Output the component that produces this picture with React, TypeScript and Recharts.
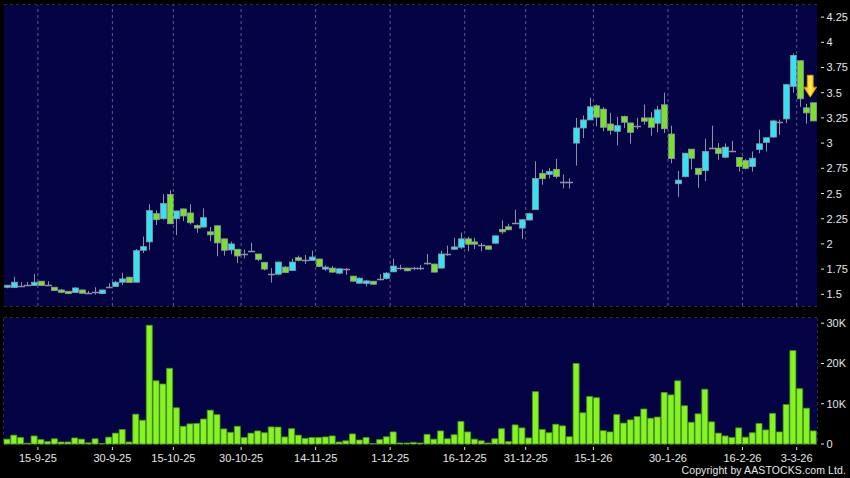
import { ComposedChart, Bar, XAxis, YAxis, CartesianGrid, ReferenceDot, ReferenceLine } from 'recharts';

const OPEN = [
  1.57, 1.567, 1.583, 1.597, 1.587, 1.63, 1.593, 1.57, 1.543, 1.53,
  1.517, 1.543, 1.517, 1.523, 1.507, 1.577, 1.577, 1.62, 1.67, 1.62,
  1.937, 2.02, 2.3, 2.25, 2.49, 2.25, 2.347, 2.307, 2.183, 2.167,
  2.12, 2.18, 2.05, 1.94, 1.947, 1.897, 1.933, 1.9, 1.817, 1.703,
  1.7, 1.77, 1.737, 1.863, 1.837, 1.837, 1.85, 1.75, 1.76, 1.71,
  1.75, 1.68, 1.61, 1.607, 1.63, 1.647, 1.657, 1.723, 1.76, 1.76,
  1.757, 1.76, 1.81, 1.8, 1.76, 1.897, 1.947, 1.967, 2.05, 2.02,
  1.987, 1.98, 2.007, 2.143, 2.17, 2.21, 2.157, 2.237, 2.34, 2.7,
  2.69, 2.74, 2.61, 2.61, 3.0, 3.15, 3.23, 3.37, 3.337, 3.19,
  3.117, 3.263, 3.2, 3.173, 3.25, 3.25, 3.197, 3.38, 3.09, 2.597,
  2.667, 2.94, 2.75, 2.727, 2.95, 2.95, 2.86, 2.917, 2.857, 2.827,
  2.767, 2.937, 3.007, 3.06, 3.21, 3.24, 3.563, 3.817, 3.35, 3.4,
];
const HIGH = [
  1.59, 1.673, 1.623, 1.623, 1.703, 1.63, 1.63, 1.57, 1.553, 1.533,
  1.57, 1.547, 1.533, 1.57, 1.547, 1.61, 1.633, 1.713, 1.673, 1.95,
  2.073, 2.393, 2.333, 2.493, 2.533, 2.33, 2.35, 2.393, 2.193, 2.353,
  2.167, 2.18, 2.05, 2.023, 1.947, 1.943, 2.01, 1.9, 1.82, 1.76,
  1.823, 1.78, 1.853, 1.883, 1.89, 1.933, 1.853, 1.787, 1.78, 1.757,
  1.76, 1.683, 1.667, 1.64, 1.633, 1.7, 1.72, 1.853, 1.793, 1.763,
  1.773, 1.79, 1.9, 1.803, 1.933, 1.983, 2.06, 2.113, 2.07, 2.06,
  2.01, 1.983, 2.08, 2.233, 2.2, 2.34, 2.24, 2.31, 2.82, 2.737,
  2.753, 2.843, 2.69, 2.65, 3.25, 3.273, 3.45, 3.383, 3.357, 3.3,
  3.26, 3.273, 3.2, 3.25, 3.383, 3.307, 3.367, 3.5, 3.173, 2.723,
  2.9, 2.94, 2.75, 3.043, 3.173, 3.0, 2.997, 3.023, 2.86, 2.843,
  2.917, 3.133, 3.053, 3.227, 3.233, 3.58, 3.89, 3.82, 3.39, 3.4,
];
const LOW = [
  1.56, 1.567, 1.577, 1.583, 1.587, 1.583, 1.583, 1.533, 1.51, 1.503,
  1.513, 1.507, 1.507, 1.497, 1.503, 1.57, 1.573, 1.593, 1.613, 1.617,
  1.91, 1.937, 2.187, 2.24, 2.2, 2.087, 2.227, 2.193, 2.11, 2.167,
  2.027, 1.877, 1.883, 1.897, 1.81, 1.857, 1.92, 1.83, 1.737, 1.617,
  1.69, 1.71, 1.733, 1.827, 1.8, 1.833, 1.77, 1.733, 1.713, 1.7,
  1.693, 1.623, 1.607, 1.577, 1.597, 1.64, 1.647, 1.723, 1.743, 1.73,
  1.743, 1.74, 1.793, 1.717, 1.757, 1.883, 1.943, 1.95, 1.927, 1.95,
  1.927, 1.943, 2.003, 2.1, 2.137, 2.197, 2.05, 2.233, 2.34, 2.587,
  2.65, 2.65, 2.55, 2.55, 2.777, 3.05, 3.23, 3.167, 3.117, 3.083,
  2.977, 3.15, 2.993, 3.14, 3.183, 3.073, 3.107, 3.1, 2.8, 2.467,
  2.66, 2.74, 2.557, 2.623, 2.943, 2.833, 2.85, 2.91, 2.717, 2.74,
  2.717, 2.9, 2.917, 3.053, 3.083, 3.2, 3.5, 3.36, 3.193, 3.22,
];
const CLOSE = [
  1.59, 1.62, 1.583, 1.597, 1.62, 1.587, 1.593, 1.537, 1.52, 1.507,
  1.563, 1.51, 1.517, 1.523, 1.543, 1.577, 1.62, 1.653, 1.617, 1.933,
  1.973, 2.33, 2.24, 2.4, 2.2, 2.327, 2.277, 2.21, 2.157, 2.26,
  2.09, 2.01, 1.937, 2.0, 1.88, 1.897, 1.933, 1.847, 1.75, 1.703,
  1.82, 1.717, 1.82, 1.837, 1.837, 1.87, 1.777, 1.77, 1.72, 1.753,
  1.743, 1.63, 1.66, 1.633, 1.6, 1.647, 1.71, 1.78, 1.76, 1.733,
  1.757, 1.76, 1.81, 1.72, 1.9, 1.897, 1.97, 2.05, 1.997, 1.997,
  1.987, 1.947, 2.08, 2.12, 2.14, 2.21, 2.24, 2.3, 2.65, 2.647,
  2.72, 2.67, 2.61, 2.61, 3.15, 3.23, 3.36, 3.257, 3.157, 3.127,
  3.173, 3.207, 3.107, 3.173, 3.217, 3.157, 3.33, 3.143, 2.847, 2.633,
  2.9, 2.85, 2.69, 2.917, 2.95, 2.897, 2.96, 2.917, 2.767, 2.75,
  2.85, 2.993, 3.053, 3.22, 3.21, 3.58, 3.87, 3.44, 3.3, 3.22,
];
// thousands of shares
const VOLUME_K = [
  1.2, 2.2, 1.6, 0.2, 2.0, 1.1, 0.6, 1.3, 0.5, 0.5,
  1.5, 1.2, 0.3, 1.3, 0.1, 1.7, 2.7, 3.6, 0.5, 7.4,
  5.9, 29.5, 15.7, 14.9, 18.8, 9.0, 4.4, 5.0, 5.1, 6.2,
  8.4, 7.3, 3.75, 2.9, 4.4, 1.6, 2.7, 3.25, 2.8, 4.25,
  4.2, 1.75, 3.8, 2.2, 1.4, 1.6, 1.6, 1.75, 2.0, 0.5,
  0.8, 2.5, 1.0, 1.6, 0.1, 1.1, 1.8, 3.0, 0.25, 0.25,
  0.4, 0.25, 2.4, 1.2, 3.25, 1.3, 2.3, 5.6, 3.0, 1.2,
  0.8, 0.25, 1.3, 3.8, 0.6, 4.75, 4.0, 1.5, 13.0, 3.6,
  2.8, 4.9, 4.5, 1.8, 20.0, 7.75, 11.8, 11.5, 3.3, 3.0,
  7.3, 5.2, 6.0, 6.8, 8.7, 6.4, 6.7, 12.8, 12.2, 15.7,
  9.5, 5.4, 7.5, 13.6, 5.5, 2.7, 2.0, 1.6, 4.0, 1.7,
  2.8, 5.1, 3.5, 7.6, 3.0, 9.8, 23.2, 13.75, 8.9, 3.25,
];

const DATE_INDEX = [4, 15, 24, 34, 45, 56, 67, 76, 86, 97, 108, 116];
const DATE_LABELS = [
  '15-9-25', '30-9-25', '15-10-25', '30-10-25', '14-11-25', '1-12-25',
  '16-12-25', '31-12-25', '15-1-26', '30-1-26', '16-2-26', '3-3-26',
];
const PRICE_TICKS = [1.5, 1.75, 2, 2.25, 2.5, 2.75, 3, 3.25, 3.5, 3.75, 4, 4.25];
const VOLUME_TICKS = [0, 5000, 10000, 15000, 20000, 25000, 30000];
const ARROW_INDEX = 118.5;
const ARROW_PRICE = 3.56;

const data = OPEN.map((o, i) => ({
  i,
  open: o,
  high: HIGH[i],
  low: LOW[i],
  close: CLOSE[i],
  volume: VOLUME_K[i] * 1000,
}));

const xDomain: [number, number] = [-0.5, OPEN.length - 0.5];
const xTicks = DATE_INDEX.map((d) => d + 0.5);
const labelOf = (v: number) => DATE_LABELS[xTicks.indexOf(v)] ?? '';

const FONT = '"Liberation Sans", Arial, sans-serif';
const TEXT = '#e6e6e6';
const GRID = '#5a5a90';
const UP = '#36e2f2';
const DOWN = '#7be02c';
const WICK = '#9090a4';

function Candle(props: any) {
  const { x, y, width, height, payload } = props;
  const { open, close, high, low } = payload;
  const cx = Math.round(x + width / 2) + 0.5;
  const ppu = high > low ? height / (high - low) : 0;
  const top = y + (high - Math.max(open, close)) * ppu;
  const bot = y + (high - Math.min(open, close)) * ppu;
  const flat = bot - top < 1.5;
  return (
    <g>
      <line x1={cx} x2={cx} y1={y} y2={y + height} stroke={WICK} strokeWidth={1} />
      {flat ? (
        <line x1={cx - 3.5} x2={cx + 3.5} y1={Math.round(top) + 0.5} y2={Math.round(top) + 0.5} stroke={WICK} strokeWidth={1.5} />
      ) : (
        <rect
          x={cx - 3}
          y={top}
          width={6}
          height={bot - top}
          fill={close > open ? UP : DOWN}
          stroke="#8a9aa6"
          strokeWidth={0.8}
        />
      )}
    </g>
  );
}

function Arrow(props: any) {
  const { cx, cy } = props;
  const d = `M${cx - 3},${cy - 11.5} h6 v12 h3.5 L${cx},${cy + 10.5} L${cx - 6.5},${cy + 0.5} h3.5 Z`;
  return (
    <g>
      <defs>
        <linearGradient id="arrowFill" x1="0" y1="0" x2="1" y2="0">
          <stop offset="0" stopColor="#f2a600" />
          <stop offset="0.5" stopColor="#fff04a" />
          <stop offset="1" stopColor="#f2a600" />
        </linearGradient>
      </defs>
      <path d={d} fill="url(#arrowFill)" stroke="#d88a00" strokeWidth={0.8} />
    </g>
  );
}

function RightTick(props: any) {
  const { x, y, payload, fmt } = props;
  return (
    <g>
      <line x1={x + 4} x2={x + 7} y1={y} y2={y} stroke={TEXT} strokeWidth={1} />
      <text x={x + 9.5} y={y} dy={4} fill={TEXT} fontSize={11} fontFamily={FONT}>
        {fmt(payload.value)}
      </text>
    </g>
  );
}

function DateTick(props: any) {
  const { x, y, payload } = props;
  return (
    <g>
      <line x1={x} x2={x} y1={y + 3} y2={y + 6} stroke={TEXT} strokeWidth={1} />
      <text x={x} y={y + 17.5} textAnchor="middle" fill={TEXT} fontSize={11} fontFamily={FONT}>
        {labelOf(payload.value)}
      </text>
    </g>
  );
}

const priceFmt = (v: number) => String(v);
const volFmt = (v: number) => (v === 0 ? '0' : `${v / 1000}K`);

export default function App() {
  return (
    <div style={{ position: 'absolute', left: 0, top: 0, width: 850, height: 478, background: '#000' }}>
      <div style={{ position: 'absolute', left: 0, top: 0 }}>
        <ComposedChart width={850} height={312} data={data} margin={{ top: 5, right: 0, bottom: 6, left: 4 }}>
          <rect x={4} y={5} width={813} height={301} fill="#040444" />
          <CartesianGrid stroke={GRID} strokeDasharray="3 3" vertical={false} />
          {xTicks.map((t) => (
            <ReferenceLine key={t} x={t} stroke={GRID} strokeDasharray="3 3" />
          ))}
          <XAxis dataKey="i" type="number" domain={xDomain} ticks={xTicks} hide />
          <YAxis
            orientation="right"
            width={33}
            domain={[1.384, 4.37]}
            ticks={PRICE_TICKS}
            axisLine={false}
            tickLine={false}
            tickSize={0}
            tickMargin={0}
            tick={<RightTick fmt={priceFmt} />}
            allowDataOverflow
          />
          <Bar
            dataKey={(d: any) => [d.low, d.high]}
            barSize={6}
            shape={<Candle />}
            isAnimationActive={false}
          />
          <ReferenceDot x={ARROW_INDEX} y={ARROW_PRICE} shape={<Arrow />} />
        </ComposedChart>
      </div>
      <div style={{ position: 'absolute', left: 0, top: 312 }}>
        <ComposedChart width={850} height={166} data={data} margin={{ top: 6, right: 0, bottom: 0, left: 4 }}>
          <rect x={4} y={6} width={813} height={126} fill="#040444" />
          <CartesianGrid stroke={GRID} strokeDasharray="3 3" />
          <XAxis
            dataKey="i"
            type="number"
            domain={xDomain}
            ticks={xTicks}
            height={34}
            axisLine={false}
            tickLine={false}
            tickSize={0}
            tickMargin={0}
            tick={<DateTick />}
            interval={0}
          />
          <YAxis
            orientation="right"
            width={33}
            domain={[0, 31300]}
            ticks={VOLUME_TICKS}
            axisLine={false}
            tickLine={false}
            tickSize={0}
            tickMargin={0}
            tick={<RightTick fmt={volFmt} />}
          />
          <Bar dataKey="volume" barSize={6} fill="#86f424" stroke="#4a9814" strokeWidth={0.8} isAnimationActive={false} />
        </ComposedChart>
      </div>
      <div
        style={{
          position: 'absolute',
          right: 4,
          top: 464,
          color: TEXT,
          fontFamily: FONT,
          fontSize: 10.5,
          letterSpacing: 0.1,
          lineHeight: '12px',
        }}
      >
        Copyright by AASTOCKS.com Ltd.
      </div>
    </div>
  );
}
